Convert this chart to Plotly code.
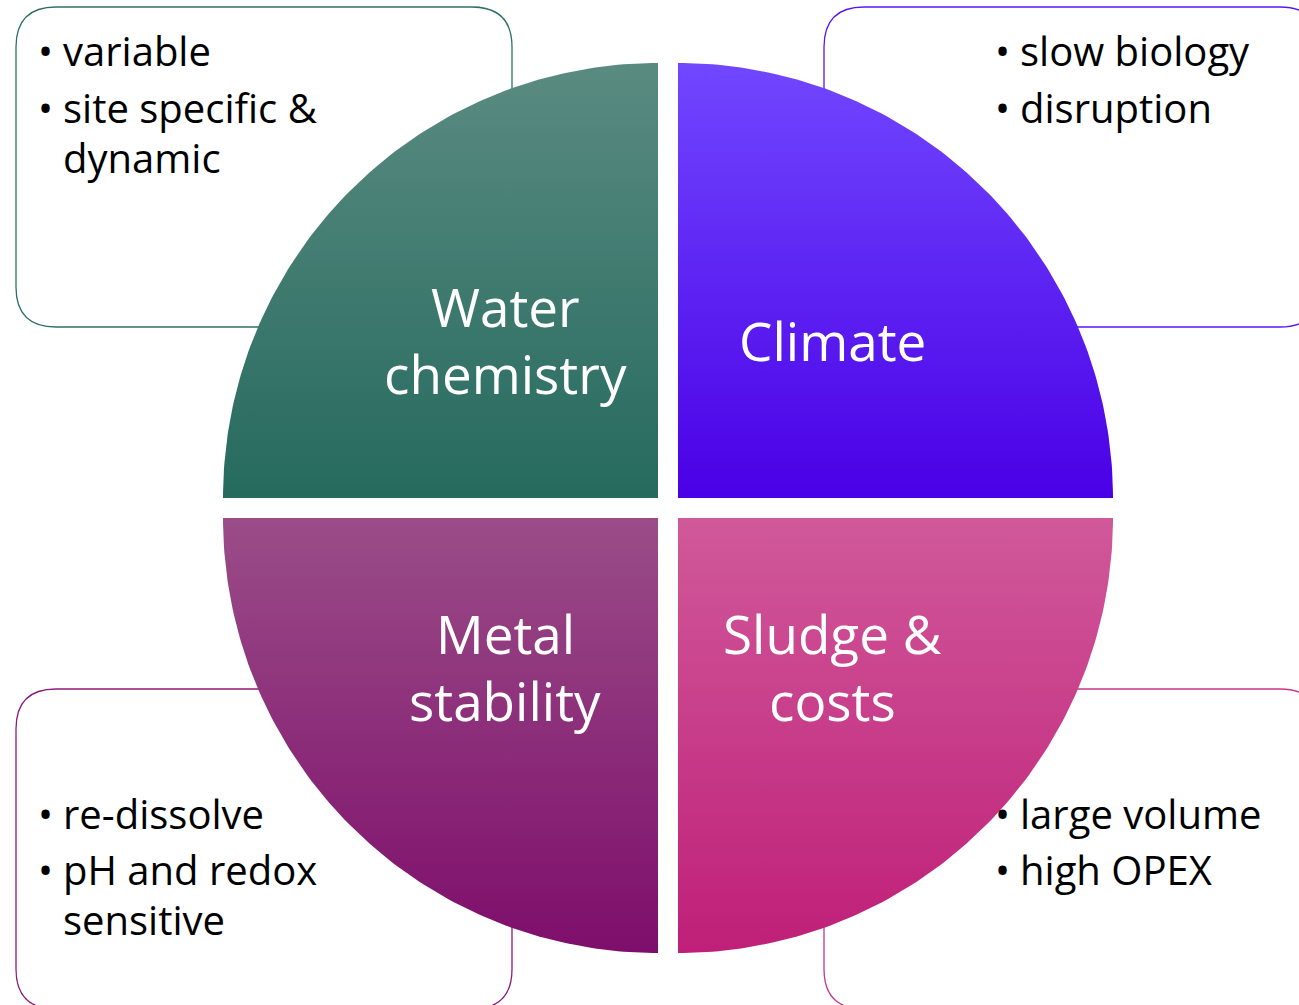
import numpy as np
import plotly.graph_objects as go

# ---- content ----
categories = ["Water<br>chemistry", "Climate", "Metal<br>stability", "Sludge &<br>costs"]
bullets = [
    ["variable", "site specific &<br>dynamic"],
    ["slow biology", "disruption"],
    ["re-dissolve", "pH and redox<br>sensitive"],
    ["large volume", "high OPEX"],
]
top_colors = ["#5a8b81", "#7147ff", "#9a4d88", "#d0599a"]
bottom_colors = ["#266a5e", "#4a00e6", "#7e0e6b", "#bf1f78"]
border_colors = ["#2f6f64", "#5a14f7", "#8d1b7a", "#c83487"]

# ---- layout geometry (pixels) ----
W, H = 1299, 1005
CX, CY = 668, 508       # centre of the cycle
GAP = 10                # half gap between quadrants
R = 435                 # quadrant radius
BOX_W, BOX_H, BOX_R = 496, 320, 40
BOX_MARGIN_X, BOX_MARGIN_Y = 16, 7

quads = [(-1, -1), (1, -1), (-1, 1), (1, 1)]

fig = go.Figure()


def rounded_rect_path(x0, y0, x1, y1, r):
    return (f"M{x0 + r},{y0} L{x1 - r},{y0} Q{x1},{y0} {x1},{y0 + r} "
            f"L{x1},{y1 - r} Q{x1},{y1} {x1 - r},{y1} L{x0 + r},{y1} "
            f"Q{x0},{y1} {x0},{y1 - r} L{x0},{y0 + r} Q{x0},{y0} {x0 + r},{y0} Z")


shapes = []
for i, (sx, sy) in enumerate(quads):
    bx0 = BOX_MARGIN_X if sx < 0 else 2 * CX - BOX_MARGIN_X - BOX_W
    by0 = BOX_MARGIN_Y if sy < 0 else 2 * CY - BOX_MARGIN_Y - BOX_H
    shapes.append(dict(type="path", layer="below",
                       path=rounded_rect_path(bx0, by0, bx0 + BOX_W, by0 + BOX_H, BOX_R),
                       fillcolor="white", line=dict(color=border_colors[i], width=1.3)))

    ox, oy = CX + sx * GAP, CY + sy * GAP
    t = np.linspace(0, np.pi / 2, 120)
    xs = np.concatenate([[ox], ox + sx * R * np.cos(t), [ox]])
    ys = np.concatenate([[oy], oy + sy * R * np.sin(t), [oy]])
    fig.add_trace(go.Scatter(
        x=xs, y=ys, mode="lines", fill="toself", line=dict(width=0, color="rgba(0,0,0,0)"),
        fillgradient=dict(type="vertical",
                          colorscale=[[0, bottom_colors[i]], [1, top_colors[i]]]),
        hoverinfo="skip", showlegend=False))

annotations = []
LABEL_FS, LABEL_LH = 53, 67
label_pos = [(505, 343), (832, 343), (505, 670), (832, 670)]
for i, lab in enumerate(categories):
    x, y = label_pos[i]
    lines = lab.split("<br>")
    n = len(lines)
    for k, ln in enumerate(lines):
        yl = y + (k - (n - 1) / 2) * LABEL_LH - 3
        annotations.append(dict(x=x, y=yl, text=ln, showarrow=False, xanchor="center",
                                yanchor="middle",
                                font=dict(family="Open Sans", size=LABEL_FS, color="white")))

FS, LH = 40, 50
bullet_x = [45, 1002, 45, 1002]
text_x = [63, 1020, 63, 1020]
bullet_y = [[52, 109], [52, 109], [815, 871], [815, 871]]
for i, items in enumerate(bullets):
    for j, txt in enumerate(items):
        yc = bullet_y[i][j] - 2
        annotations.append(dict(x=bullet_x[i], y=yc, text="•", showarrow=False,
                                xanchor="center", yanchor="middle",
                                font=dict(family="Open Sans", size=FS, color="black")))
        for k, ln in enumerate(txt.split("<br>")):
            annotations.append(dict(x=text_x[i] - 2, y=yc + k * LH, text=ln, showarrow=False,
                                    xanchor="left", yanchor="middle",
                                    font=dict(family="Open Sans", size=FS, color="black")))

fig.update_layout(
    width=W, height=H, autosize=False,
    margin=dict(l=0, r=0, t=0, b=0),
    paper_bgcolor="white", plot_bgcolor="white",
    xaxis=dict(range=[0, W], visible=False, fixedrange=True),
    yaxis=dict(range=[H, 0], visible=False, fixedrange=True),
    shapes=shapes, annotations=annotations, showlegend=False,
)

fig.write_html("out.html")
